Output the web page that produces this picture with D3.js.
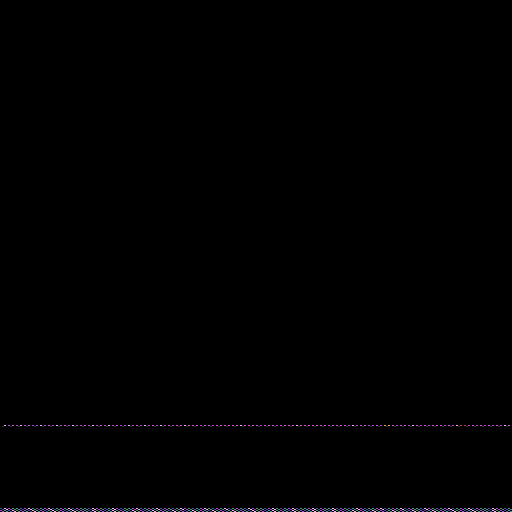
<!DOCTYPE html>
<html>
<head>
<meta charset="utf-8">
<script src="https://cdn.jsdelivr.net/npm/d3@7"></script>
<style>
  body { margin: 0; background: #000; }
  svg { display: block; }
</style>
</head>
<body>
<div id="chart"></div>
<script>
// row numbers (image rows) that carry any signal
const rowIds = [425, 426, 508, 510];

// tone letters per column, read left to right
const lineTones = (
  "kwpmpwpmppwpmpwpmpwppmpwpmpwpmppwpmpwpmpwpmp" +
  "mmwmmmpmmpmmmmmmwmmmmpmmmpmmmmwmmmmmmmpmmm" +
  "mpwpmmppmpoompmmpwmpmpmmmpmpwrrpmpmpmpmpwm"
).split("");
const shadowTones = (
  "gkgkgkgkgkgkgkgkgkgkgkgkgkgkgkgkgkgkgkgkgkgk" +
  "gkgkgkgkgkgkgkgkgkgkgkgkgkgkgkgkgkgkgkgkgk" +
  "gkgkgkgkgkgkgkgkgkgkgkgkgkgkgkgkgkgkgkgkgk"
).split("");
const baseTones1 = (
  "bwpncbpwnbcpwbnpcwbpncbwpnbcwpbncpwbnpcwbpnb" +
  "cwpnbcpwnbpcwbnpcbwpncbpwnbcpwbncpwbpncwbp" +
  "nbcwpbncpwbnpcwbpncbwpnbcpwbnpcwbpncbwpnbc"
).split("");
const baseTones2 = (
  "pcbwnpcbwnpbcwnpbcwnpcbwnpbcwnpcbwnpbcwnpcbw" +
  "npbcwnpcbwnpbcwnpcbwnpbcwnpcbwnpbcwnpcbwnp" +
  "bcwnpcbwnpbcwnpcbwnpbcwnpcbwnpbcwnpcbwnpbc"
).split("");

const toneKeys = ["k", "w", "p", "m", "o", "r", "g", "b", "c", "n"];
const toneColors = ["#000000", "#f0b4f0", "#a848d8", "#e050d8", "#e8a862", "#c23c46", "#303030", "#44509a", "#4e8e96", "#50946c"];

const width = 512;
const height = 512;

const svg = d3
  .select("#chart")
  .append("svg")
  .attr("width", width)
  .attr("height", height);

svg.append("rect").attr("width", width).attr("height", height).attr("fill", "#000");

const color = d3.scaleOrdinal().domain(toneKeys).range(toneColors);
const y = d3.scaleLinear().domain([0, 512]).range([0, height]);

function drawRow(tones, rowId, h, shift) {
  const x = d3.scaleBand().domain(d3.range(tones.length)).range([0, width]);
  svg
    .append("g")
    .selectAll("rect")
    .data(tones)
    .enter()
    .append("rect")
    .attr("x", (d, i) => x(i) + (shift ? x.bandwidth() / 2 : 0))
    .attr("y", y(rowId))
    .attr("width", x.bandwidth() / 2)
    .attr("height", h)
    .attr("fill", (d) => color(d));
}

drawRow(lineTones, rowIds[0], 1, false);
drawRow(shadowTones, rowIds[1], 1, true);
drawRow(baseTones1, rowIds[2], 1, false);
drawRow(baseTones1, rowIds[2] + 1, 1, true);
drawRow(baseTones2, rowIds[3], 1, false);
drawRow(baseTones2, rowIds[3] + 1, 1, true);
</script>
</body>
</html>
